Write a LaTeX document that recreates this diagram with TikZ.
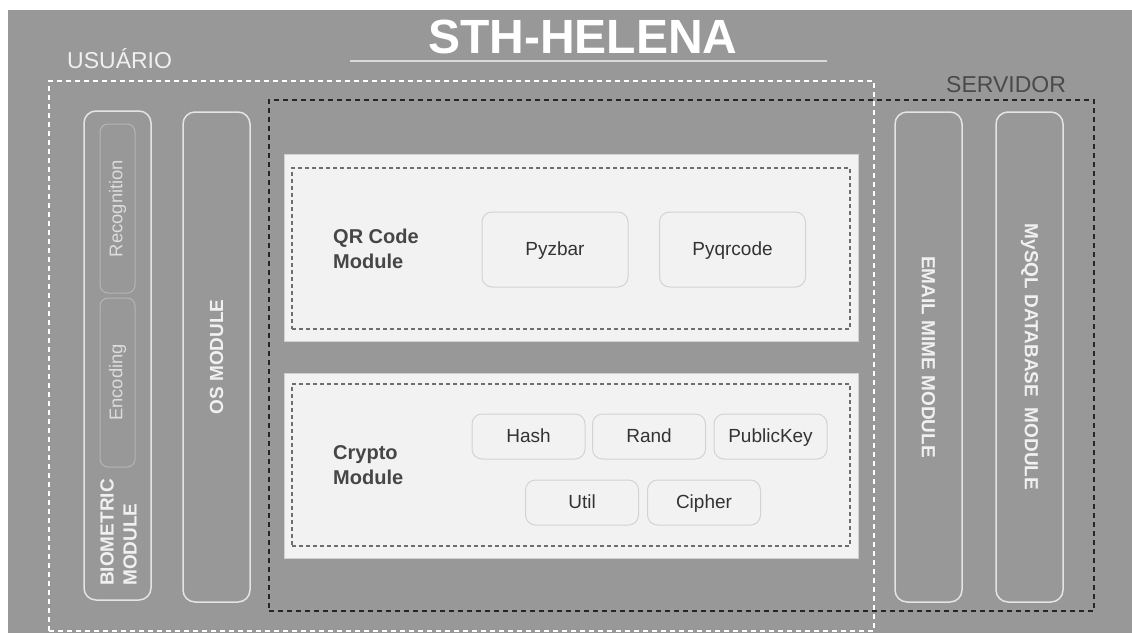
\documentclass[tikz,border=0pt]{standalone}
\usepackage{fontspec}
\setmainfont{Liberation Sans}
\definecolor{bggray}{HTML}{989898}
\definecolor{panelfill}{HTML}{F2F2F2}
\definecolor{paneledge}{HTML}{D0D0D0}
\definecolor{innerdash}{HTML}{6E6E6E}
\definecolor{modline}{HTML}{E4E4E4}
\definecolor{modtext}{HTML}{F0F0F0}
\definecolor{subline}{HTML}{B5B5B5}
\definecolor{subtext}{HTML}{DCDCDC}
\definecolor{libline}{HTML}{D3D3D3}
\definecolor{libtext}{HTML}{333333}
\definecolor{headtext}{HTML}{464646}
\definecolor{srvtext}{HTML}{4A4A4A}
\definecolor{ruleline}{HTML}{D9D9D9}
\tikzset{
  modbox/.style={draw=modline, line width=1.5pt, rounded corners=12pt, minimum width=490pt, minimum height=67pt, inner sep=0pt,
    text=modtext, font=\fontsize{19}{23}\selectfont\bfseries},
  subbox/.style={draw=subline, line width=1pt, rounded corners=8pt, minimum width=169pt, minimum height=35pt, inner sep=0pt,
    text=subtext, font=\fontsize{18.4}{22}\selectfont},
  panel/.style={fill=panelfill, draw=paneledge, line width=1pt, minimum width=574pt, inner sep=0pt},
  panelline/.style={draw=innerdash, line width=1.1pt, dash pattern=on 4pt off 3pt, minimum width=558pt, inner sep=0pt},
  libbox/.style={fill=panelfill, draw=libline, line width=1pt, rounded corners=10pt, inner sep=0pt, text=libtext,
    text height=13.5pt, text depth=1.5pt, font=\fontsize{19}{22}\selectfont},
  head/.style={anchor=west, align=left, inner sep=0pt, text=headtext, font=\fontsize{20}{25}\selectfont\bfseries},
  zone/.style={line width=1.3pt, dash pattern=on 5pt off 4pt, inner sep=0pt}
}
\begin{document}
\begin{tikzpicture}[x=1pt, y=-1pt]
  \useasboundingbox (0,0) rectangle (1132,633);
  \fill[white] (0,0) rectangle (1132,633);
  \fill[bggray] (8,10) rectangle (1132,633);

  \node[anchor=base, inner sep=0pt, text=white, font=\fontsize{48}{50}\selectfont\bfseries] (title) at (583,53) {STH-HELENA};
  \coordinate (ruleA) at (350,61);
  \coordinate (ruleB) at (827,61);
  \draw[ruleline, line width=1.2pt] (ruleA) -- (ruleB);

  \node[zone, draw=white, minimum width=825pt, minimum height=550pt] (usuario) at (461.5,356) {};
  \node[zone, draw=black!85, minimum width=825pt, minimum height=511pt] (servidor) at (681.5,355.5) {};
  \node[anchor=base west, inner sep=0pt, text=modtext, font=\fontsize{23}{25}\selectfont] (usrlbl) at (67,68) {USUÁRIO};
  \node[anchor=base west, inner sep=0pt, text=srvtext, font=\fontsize{23}{25}\selectfont] (srvlbl) at (946,92) {SERVIDOR};

  \node[modbox, rotate=90, minimum width=489pt] (bio) at (117.5,355.5) {};
  \foreach \n/\y/\t in {rec/208.5/Recognition, enc/382.5/Encoding}{
    \node[subbox, rotate=90] (\n) at (117.5,\y) {\t};
  }
  \node[rotate=90, anchor=west, align=left, inner sep=0pt, text=modtext, font=\fontsize{19}{23}\selectfont\bfseries] (biolbl) at (118.5,586) {BIOMETRIC\\MODULE};
  \node[modbox, rotate=90] (os) at (216.5,357) {OS MODULE};
  \node[modbox, rotate=-90] (email) at (928.5,357) {EMAIL MIME MODULE};
  \node[modbox, rotate=-90] (mysql) at (1029.5,357) {MySQL DATABASE\ \ MODULE};

  \node[panel, minimum height=187pt] (qrpanel) at (571,248) {};
  \node[panelline, minimum height=161pt] (qrzone) at (571,248.5) {};
  \node[head] (qrhead) at (333,249) {QR Code\\Module};
  \foreach \n/\x/\t in {pyzbar/555/Pyzbar, pyqr/732.5/Pyqrcode}{
    \node[libbox, minimum width=146pt, minimum height=75pt] (\n) at (\x,249.5) {\t};
  }

  \node[panel, minimum height=185pt] (crpanel) at (571,465.5) {};
  \node[panelline, minimum height=162pt] (crzone) at (571,465) {};
  \node[head] (crhead) at (333,465.5) {Crypto\\Module};
  \foreach \n/\x/\y/\t in {hash/528.5/436.5/Hash, rand/649/436.5/Rand, pkey/770.5/436.5/PublicKey,
                           util/582/502.5/Util, ciph/704/502.5/Cipher}{
    \node[libbox, minimum width=113pt, minimum height=45pt] (\n) at (\x,\y) {\t};
  }
\end{tikzpicture}
\end{document}
